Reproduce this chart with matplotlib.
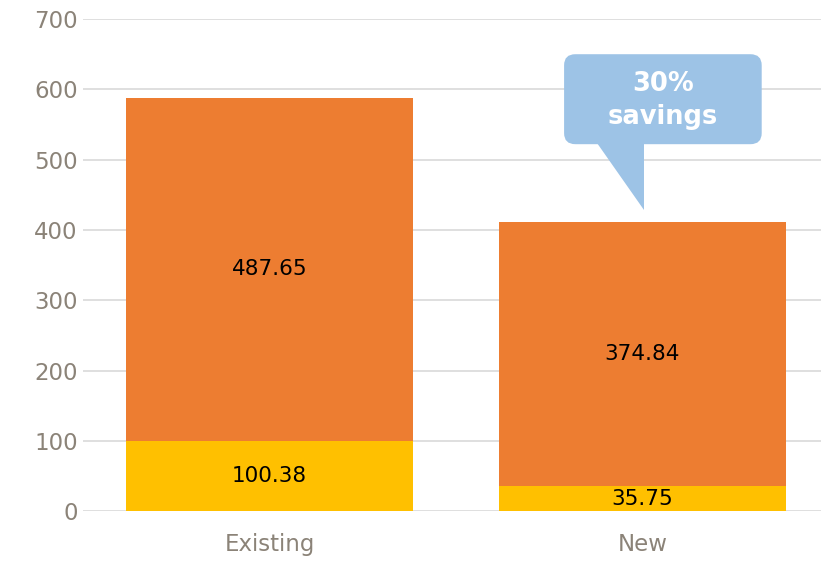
import matplotlib
matplotlib.use("Agg")
import matplotlib.pyplot as plt
from matplotlib.patches import FancyBboxPatch, Polygon

categories = ["Existing", "New"]
base_vals = [100.38, 35.75]
top_vals = [487.65, 374.84]

yellow = "#FFC000"
orange = "#ED7D31"
gray_txt = "#8B8378"
callout = "#9DC3E6"

plt.rcParams["font.family"] = ["DejaVu Sans"]

fig = plt.figure(figsize=(8.23, 5.61), dpi=100)
ax = fig.add_axes([0.101, 0.089, 0.897, 0.877])

x = list(range(len(categories)))
b1 = ax.bar(x, base_vals, width=0.77, color=yellow, zorder=2)
b2 = ax.bar(x, top_vals, width=0.77, bottom=base_vals, color=orange, zorder=2)
ax.bar_label(b1, labels=[f"{v:.2f}" for v in base_vals], label_type="center",
             fontsize=15.5, color="black")
ax.bar_label(b2, labels=[f"{v:.2f}" for v in top_vals], label_type="center",
             fontsize=15.5, color="black")

ax.set_xlim(-0.5, 1.48)
ax.set_ylim(0, 700)
ax.set_yticks(range(0, 701, 100))
ax.set_xticks(x)
ax.set_xticklabels(categories)
ax.tick_params(axis="both", length=0, labelsize=16.5, colors=gray_txt)
ax.tick_params(axis="x", pad=16)
ax.tick_params(axis="y", pad=4)
ax.grid(axis="y", color="#D9D9D9", linewidth=1.2, zorder=0)
ax.set_axisbelow(True)
for s in ax.spines.values():
    s.set_visible(False)

# speech bubble callout
box = FancyBboxPatch((0.79, 522), 0.53, 128,
                     boxstyle="round,pad=0,rounding_size=0.03",
                     mutation_aspect=520,
                     facecolor=callout, edgecolor="none", zorder=4)
ax.add_patch(box)
tail = Polygon([(0.877, 523), (1.005, 523), (1.005, 428)], closed=True,
               facecolor=callout, edgecolor="none", zorder=4)
ax.add_patch(tail)
ax.text(1.055, 584, "30%\nsavings", ha="center", va="center", color="white",
        fontsize=18.5, fontweight="bold", linespacing=1.35, zorder=5)

fig.savefig("out.png", dpi=100)
